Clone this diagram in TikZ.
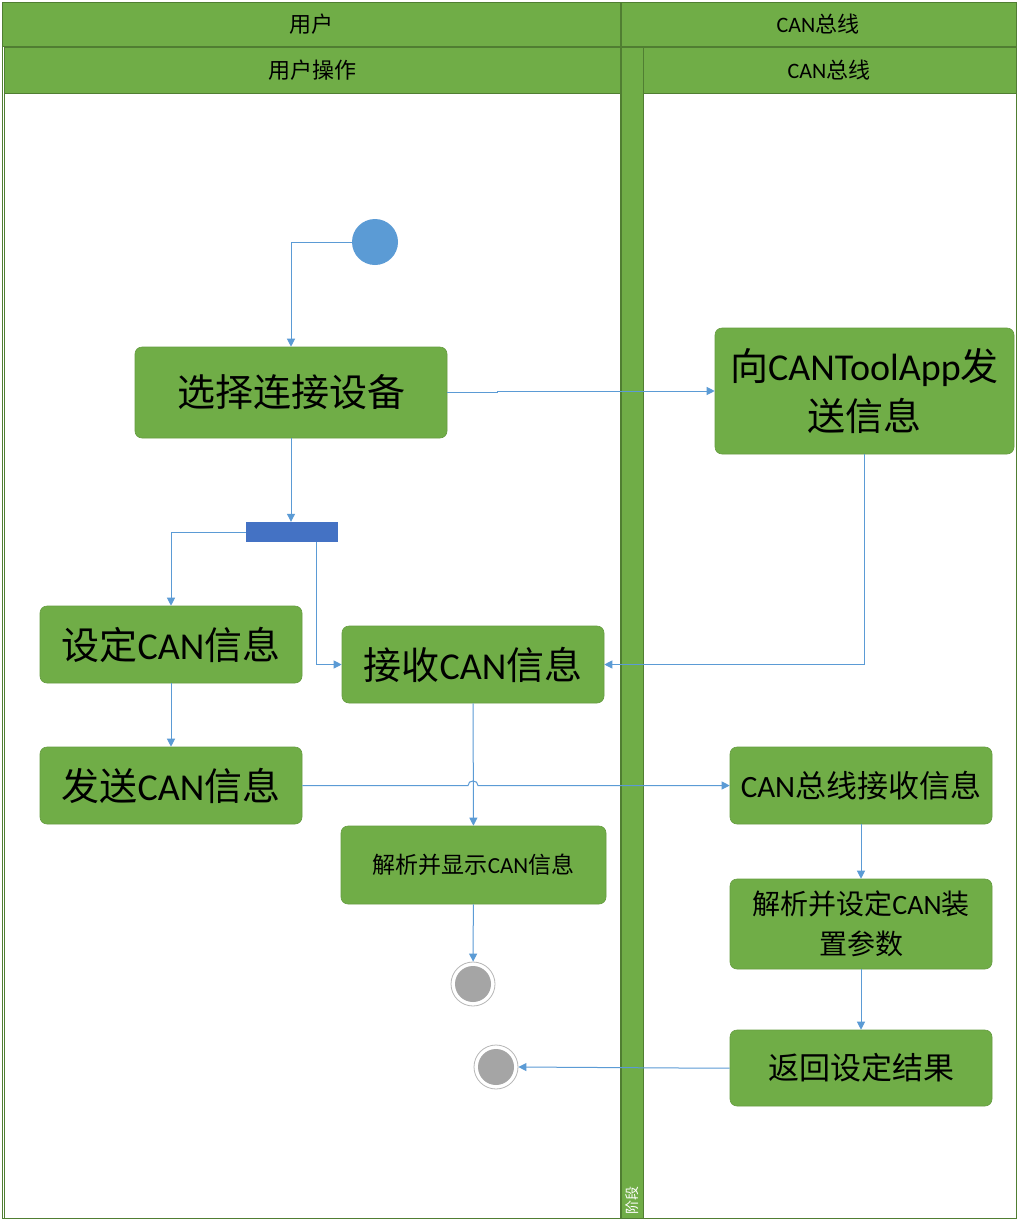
\documentclass[tikz,border=0pt]{standalone}
\usepackage{fontspec}
\setmainfont{Carlito}
\newfontfamily\cjk{Noto Sans CJK SC}
\newcommand\zh[1]{{\cjk #1}}
\usetikzlibrary{arrows.meta}
\definecolor{lanegreen}{HTML}{70AD47}
\definecolor{laneedge}{HTML}{507E32}
\definecolor{flowblue}{HTML}{5B9BD5}
\definecolor{forkblue}{HTML}{4472C4}
\definecolor{endgray}{HTML}{A5A5A5}
\tikzset{lane/.style={draw=laneedge, line width=1pt},
head/.style={draw=laneedge, fill=lanegreen, line width=1pt},
act/.style={rectangle, rounded corners=7pt, fill=lanegreen, draw=lanegreen!90!black, line width=0.6pt, align=center, inner sep=2pt},
flow/.style={draw=flowblue, line width=1pt, -{Triangle[width=8pt,length=8pt]}},
endnode/.style={circle, draw=endgray!80, fill=white, line width=0.8pt, minimum size=44pt, inner sep=0pt}}

\begin{document}
\begin{tikzpicture}[x=1pt,y=-1pt]

    \useasboundingbox[fill=white] (0,0) rectangle (1028,1224);

    % lanes
    \draw[lane] (2,2) rectangle (620,1218);
    \draw[lane] (621,2) rectangle (1016,1218);
    \draw[lane] (4,47) rectangle (620,1218);
    \draw[lane] (643,47) rectangle (1016,1218);
    \draw[head] (2,2) rectangle (620,46);
    \draw[head] (621,2) rectangle (1016,46);
    \draw[head] (4,47) rectangle (620,93);
    \draw[head] (643,47) rectangle (1016,93);
    \draw[head] (621,47) rectangle (643,1218);

    \node[font=\fontsize{22}{26}\selectfont] (lanea) at (311,24) {\zh{用户}};
    \node[font=\fontsize{22}{26}\selectfont] (laneb) at (818,24) {CAN\zh{总线}};
    \node[font=\fontsize{22}{26}\selectfont] (subla) at (312,70) {\zh{用户操作}};
    \node[font=\fontsize{22}{26}\selectfont] (sublb) at (829,70) {CAN\zh{总线}};
    \node[rotate=90, text=white, font=\cjk\fontsize{14}{14}\selectfont] (stage) at (632,1200) {阶段};

    % activities
    \node[circle, fill=flowblue, minimum size=46pt, inner sep=0pt] (start) at (375,242) {};
    \node[act, minimum width=312pt, minimum height=91pt, font=\fontsize{38}{44}\selectfont] (select) at (291,392.5) {\zh{选择连接设备}};
    \node[act, minimum width=299pt, minimum height=126pt, font=\fontsize{38}{50}\selectfont] (send) at (864.5,391) {\zh{向}CANToolApp\zh{发}\\\zh{送信息}};
    \node[rectangle, fill=forkblue, minimum width=92pt, minimum height=20pt, inner sep=0pt] (fork) at (292,532) {};
    \node[act, minimum width=262pt, minimum height=77pt, font=\fontsize{38}{44}\selectfont] (setcan) at (171,644.5) {\zh{设定}CAN\zh{信息}};
    \node[act, minimum width=262pt, minimum height=77pt, font=\fontsize{38}{44}\selectfont] (recv) at (473,664.5) {\zh{接收}CAN\zh{信息}};
    \node[act, minimum width=262pt, minimum height=77pt, font=\fontsize{38}{44}\selectfont] (sendcan) at (171,785.5) {\zh{发送}CAN\zh{信息}};
    \node[act, minimum width=265pt, minimum height=78pt, font=\fontsize{23}{28}\selectfont] (parse) at (473.5,865) {\zh{解析并显示}CAN\zh{信息}};
    \node[endnode] (end1) at (473,984) {};
    \fill[endgray] (end1) circle (18);
    \node[act, minimum width=262pt, minimum height=77pt, font=\fontsize{31}{36}\selectfont] (busrecv) at (861,785.5) {CAN\zh{总线接收信息}};
    \node[act, minimum width=262pt, minimum height=90pt, font=\fontsize{28}{40}\selectfont] (setpar) at (861,924) {\zh{解析并设定}CAN\zh{装}\\\zh{置参数}};
    \node[act, minimum width=262pt, minimum height=76pt, font=\fontsize{31}{36}\selectfont] (result) at (861,1068) {\zh{返回设定结果}};
    \node[endnode] (end2) at (496,1067) {};
    \fill[endgray] (end2) circle (18);

    % connectors
    \coordinate (jump) at (recv.south |- sendcan.east);
    \draw[flow] (start.west) -| (select.north);
    \draw[flow] (select.east) -- (497,392.5) |- (send.west);
    \draw[flow] (select.south) -- (select.south |- fork.north);
    \draw[flow] (fork.west) -| (setcan.north);
    \draw[flow] ([xshift=24pt]fork.south) |- (recv.west);
    \draw[flow] (send.south) |- (recv.east);
    \draw[flow] (setcan) -- (sendcan);
    \draw[flow] (sendcan.east) -- ([xshift=-5pt]jump) .. controls ([xshift=-5pt,yshift=6pt]jump) and ([xshift=5pt,yshift=6pt]jump) .. ([xshift=5pt]jump) -- (busrecv.west);
    \draw[flow] (recv) -- (parse);
    \draw[flow] (parse) -- (end1);
    \draw[flow] (busrecv) -- (setpar);
    \draw[flow] (setpar) -- (result);
    \draw[flow] (result.west) -- (681,1068) -- (end2.east);

  \end{tikzpicture}
\end{document}
